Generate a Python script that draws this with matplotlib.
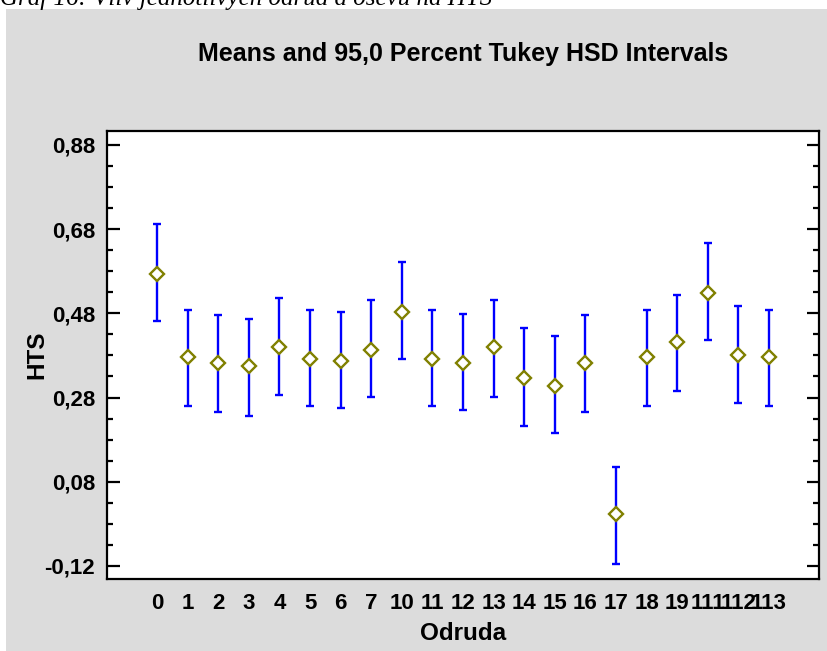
import matplotlib

matplotlib.use("Agg")
import matplotlib.pyplot as plt
from matplotlib.patches import Rectangle
from matplotlib.ticker import FixedLocator

# Odruda categories and Tukey HSD intervals
labels = ["0", "1", "2", "3", "4", "5", "6", "7", "10", "11", "12", "13",
          "14", "15", "16", "17", "18", "19", "111", "112", "113"]
means = [0.574, 0.376, 0.362, 0.354, 0.399, 0.372, 0.367, 0.394, 0.484, 0.371, 0.362,
         0.399, 0.327, 0.308, 0.362, 0.003, 0.376, 0.412, 0.529, 0.380, 0.376]
lower = [0.462, 0.259, 0.246, 0.236, 0.286, 0.259, 0.255, 0.281, 0.372, 0.259, 0.250,
         0.281, 0.213, 0.196, 0.246, -0.115, 0.259, 0.295, 0.417, 0.268, 0.259]
upper = [0.692, 0.489, 0.475, 0.467, 0.516, 0.489, 0.484, 0.512, 0.601, 0.489, 0.479,
         0.512, 0.444, 0.426, 0.475, 0.115, 0.489, 0.524, 0.647, 0.498, 0.489]
yticks = [-0.12, 0.08, 0.28, 0.48, 0.68, 0.88]

W, H = 827, 651
BG = "#DCDCDC"
FS = 16
plt.rcParams["font.family"] = ["Liberation Sans", "DejaVu Sans"]

fig = plt.figure(figsize=(W / 100, H / 100), dpi=100)
fig.patch.set_facecolor("white")
bg = Rectangle((6 / W, 0), 1, 1 - 9 / H, transform=fig.transFigure,
               facecolor=BG, edgecolor="none")
fig.add_artist(bg)
bg.set_zorder(-5)
fig.text(0.0, 1 - 5 / H, "Graf 16: Vliv jednotlivých odrůd a osevu na HTS",
         family=["Liberation Serif", "DejaVu Serif"], style="italic", fontsize=18,
         va="baseline", ha="left")

ax = fig.add_axes([107 / W, 1 - 579 / H, 712 / W, 448 / H])
ax.set_zorder(2)
ax.set_facecolor("white")

x = list(range(len(labels)))
yerr = [[m - lo for m, lo in zip(means, lower)], [hi - m for m, hi in zip(means, upper)]]
ax.errorbar(x, means, yerr=yerr, fmt="none", ecolor="#0000FF", elinewidth=1.7,
            capsize=3.2, capthick=1.7, zorder=2)
ax.plot(x, means, linestyle="none", marker="D", markersize=7, markerfacecolor="white",
        markeredgecolor="#808000", markeredgewidth=1.7, zorder=3)

ax.set_xlim(-1.64, len(labels) - 1 + 1.64)
ax.set_ylim(-0.151, 0.913)
ax.set_xticks(x)
ax.set_xticklabels(labels)
ax.yaxis.set_major_locator(FixedLocator(yticks))
ax.yaxis.set_minor_locator(FixedLocator([v + d for v in yticks[:-1] for d in (0.05, 0.10, 0.15)]))
ax.set_yticklabels([f"{v:.2f}".replace(".", ",") for v in yticks])

ax.tick_params(axis="x", length=0, pad=10, labelsize=FS)
for lab in ax.get_xticklabels():
    lab.set_fontweight("bold")
ax.tick_params(axis="y", which="major", direction="in", length=9, width=1.6,
               left=True, right=True, pad=8.5, labelsize=FS)
ax.tick_params(axis="y", which="minor", direction="in", length=4.5, width=1.6,
               left=True, right=True)
for lab in ax.get_yticklabels():
    lab.set_fontweight("bold")
for s in ax.spines.values():
    s.set_linewidth(1.6)
    s.set_color("black")

fig.text((107 + 819) / 2 / W, 1 - 54 / H, "Means and 95,0 Percent Tukey HSD Intervals",
         ha="center", va="center", fontsize=18, fontweight="bold")
fig.text((107 + 819) / 2 / W, 1 - 634 / H, "Odruda", ha="center", va="center",
         fontsize=17.5, fontweight="bold")
fig.text(37 / W, 1 - 355 / H, "HTS", ha="center", va="center", rotation=90,
         fontsize=17.5, fontweight="bold")

fig.savefig("out.png", dpi=100, facecolor="white")
